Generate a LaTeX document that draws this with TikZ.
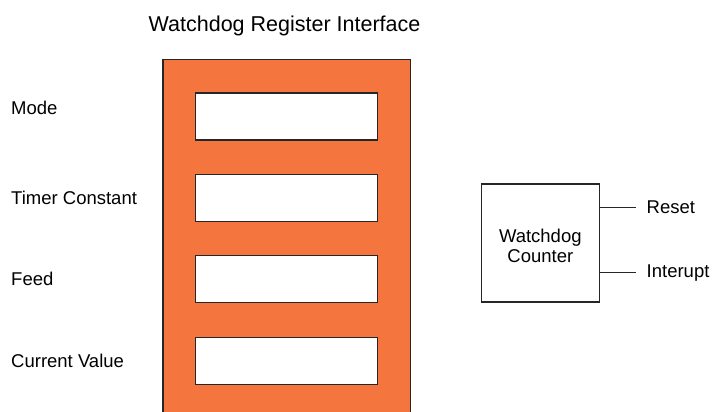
\documentclass[tikz,border=0pt]{standalone}
\usepackage{fontspec}
\setmainfont{Liberation Sans}
\definecolor{naranja}{RGB}{244,118,62}
\tikzset{
  registro/.style={draw=black!85, fill=white, line width=1.1pt, minimum width=182pt, minimum height=47pt, inner sep=0pt},
  etiqueta/.style={anchor=base west, inner sep=0pt, font=\fontsize{18.5}{20.3}\selectfont},
}
\begin{document}
\begin{tikzpicture}[x=1pt, y=-1pt]
			\useasboundingbox (0,0) rectangle (712,412);
			% Título
			\node[anchor=base, inner sep=0pt, font=\fontsize{21.5}{24}\selectfont] (titulo) at (284.5,31.7) {Watchdog Register Interface};
			% Bloque naranja (cortado abajo)
			\fill[naranja] (163,59.5) rectangle (410.5,420);
			\draw[black!85, line width=1.1pt] (163,420) |- (410.5,59.5) -- (410.5,420);
			% Registros
			\node[registro] (modo) at (286.2,116.5) {};
			\node[registro] (constante) at (286.2,198) {};
			\node[registro] (alimentar) at (286.2,279) {};
			\node[registro] (actual) at (286.2,361) {};
			% Nombres a la izquierda
			\node[etiqueta] (lmodo) at (11,114) {Mode};
			\node[etiqueta] (lconstante) at (11,204.3) {Timer Constant};
			\node[etiqueta] (lalimentar) at (11,285.7) {Feed};
			\node[etiqueta] (lactual) at (11,367.7) {Current Value};
			% Contador
			\node[draw=black!85, line width=1.1pt, minimum width=117.5pt, minimum height=118pt] (contador) at (540.3,243) {};
			\node[align=center, inner sep=0pt, font=\fontsize{18.5}{20.3}\selectfont] (nombre) at ([yshift=-3pt]contador.center) {Watchdog\\Counter};
			% Salidas
			\node[etiqueta, anchor=west] (reset) at (646.5,207.7) {Reset};
			\node[etiqueta, anchor=west] (interrupcion) at (646.5,272.7) {Interupt};
			\draw[black!85, line width=1.1pt] (contador.east |- reset.west) -- ([xshift=-10.8pt]reset.west);
			\draw[black!85, line width=1.1pt] (contador.east |- interrupcion.west) -- ([xshift=-10.8pt]interrupcion.west);
		\end{tikzpicture}
\end{document}
